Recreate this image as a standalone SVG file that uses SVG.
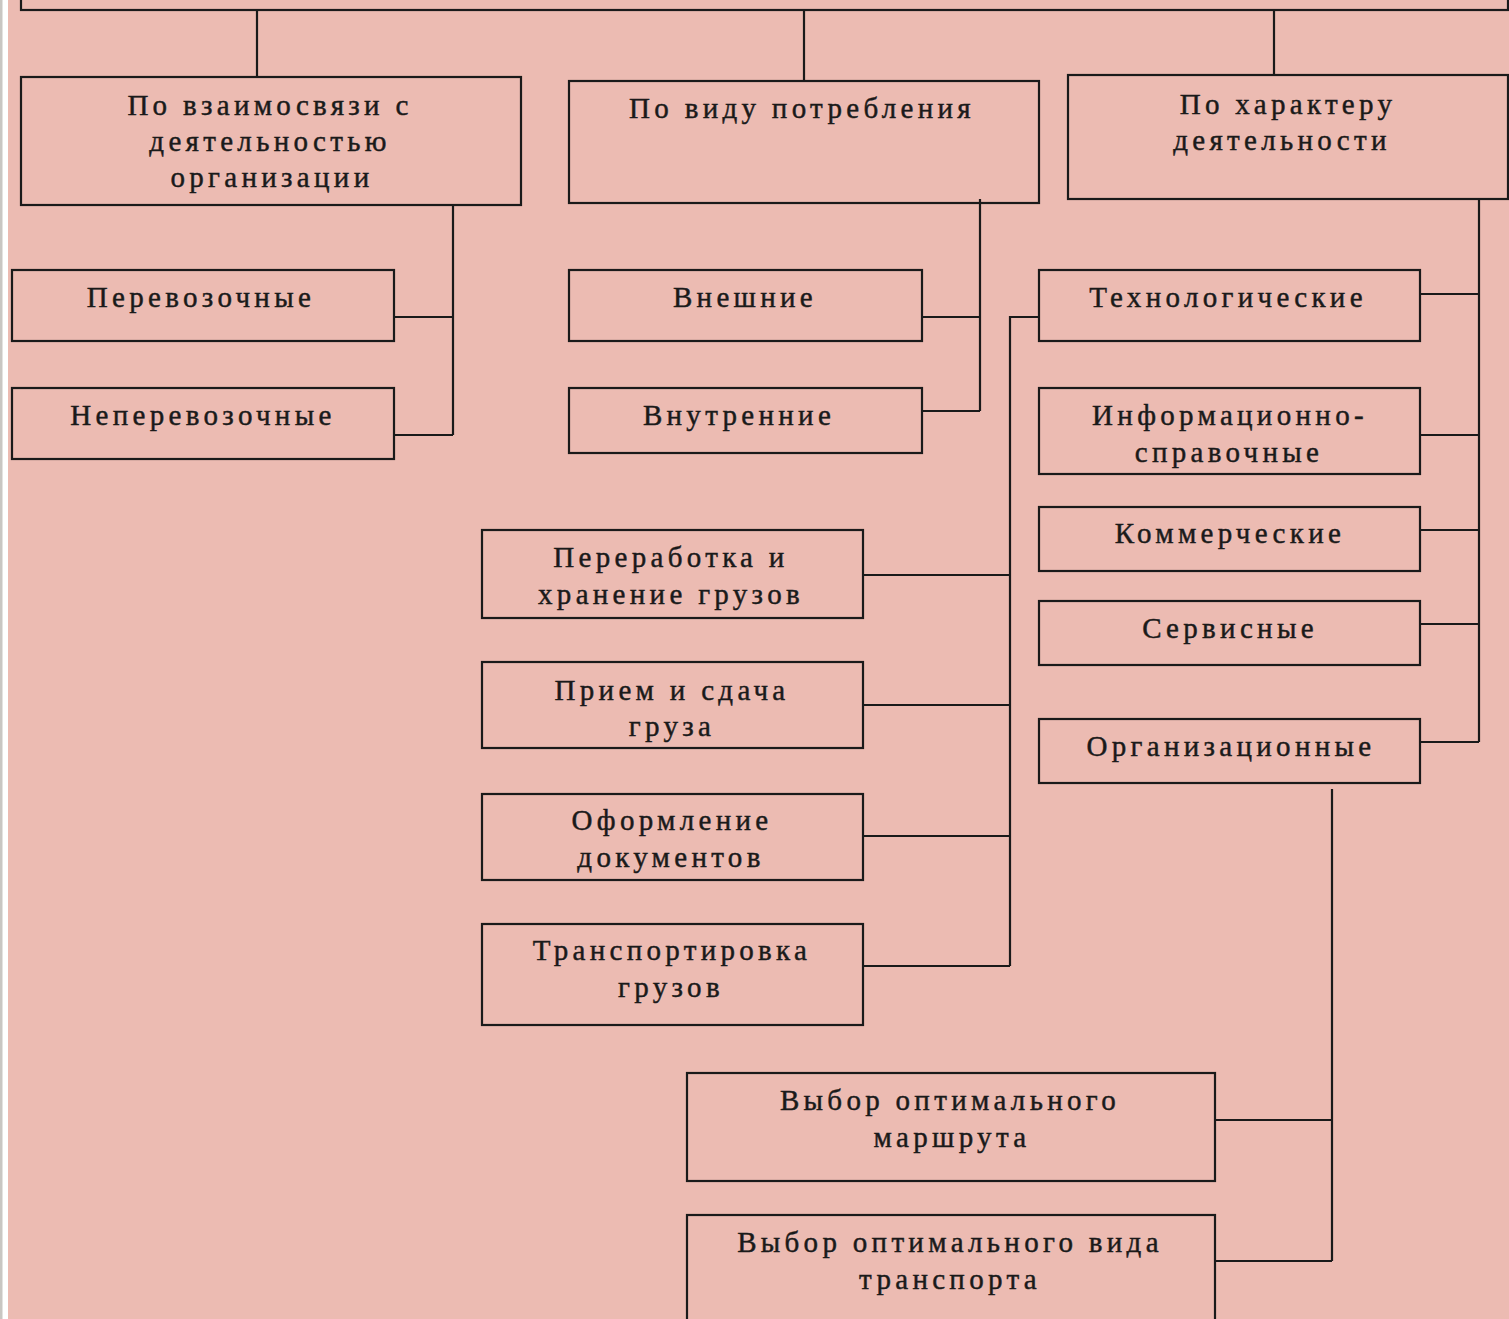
<svg xmlns="http://www.w3.org/2000/svg" width="1509" height="1319" viewBox="0 0 1509 1319">
<style>
.box{fill:none;stroke:#1a1a1a;stroke-width:2.2}
.ln{fill:none;stroke:#1a1a1a;stroke-width:2.2}
text{font-family:"Liberation Serif","DejaVu Serif",serif;font-size:29px;fill:#1a1a1a;stroke:#1a1a1a;stroke-width:0.45;text-anchor:middle;letter-spacing:4.3px}
</style>
<rect x="0" y="0" width="1509" height="1319" fill="#ffffff"/>
<rect x="0" y="0" width="2.5" height="1319" fill="#c9c6c2"/>
<rect x="8" y="0" width="1501" height="1319" fill="#ecbbb2"/>
<g id="connectors">
<path class="ln" d="M257 10V77M804 10V81M1274 10V75"/>
<path class="ln" d="M453 205V435M394 317H453M394 435H453"/>
<path class="ln" d="M980 199V411M922 317H980M922 411H980"/>
<path class="ln" d="M1479 199V742M1420 294H1479M1420 435H1479M1420 530H1479M1420 624H1479M1420 742H1479"/>
<path class="ln" d="M1039 317H1010V966M863 575H1010M863 705H1010M863 836H1010M863 966H1010"/>
<path class="ln" d="M1332 789V1261M1215 1120H1332M1215 1261H1332"/>
</g>
<g id="root"><rect class="box" x="21" y="-10" width="1487" height="20"/></g>
<g id="n1"><rect class="box" x="21" y="77" width="500" height="128"/>
<text x="270" y="115">По взаимосвязи с</text><text x="270" y="151">деятельностью</text><text x="272" y="187">организации</text></g>
<g id="n2"><rect class="box" x="569" y="81" width="470" height="122"/>
<text x="802" y="118">По виду потребления</text></g>
<g id="n3"><rect class="box" x="1068" y="75" width="440" height="124"/>
<text x="1288" y="114">По характеру</text><text x="1282" y="150">деятельности</text></g>
<g id="n4"><rect class="box" x="12" y="270" width="382" height="71"/><text x="201" y="307">Перевозочные</text></g>
<g id="n5"><rect class="box" x="12" y="388" width="382" height="71"/><text x="203" y="425">Неперевозочные</text></g>
<g id="n6"><rect class="box" x="569" y="270" width="353" height="71"/><text x="745" y="307">Внешние</text></g>
<g id="n7"><rect class="box" x="569" y="388" width="353" height="65"/><text x="739" y="425">Внутренние</text></g>
<g id="n8"><rect class="box" x="1039" y="270" width="381" height="71"/><text x="1228" y="307">Технологические</text></g>
<g id="n9"><rect class="box" x="1039" y="388" width="381" height="86"/><text x="1230" y="425">Информационно-</text><text x="1229" y="462">справочные</text></g>
<g id="n10"><rect class="box" x="1039" y="507" width="381" height="64"/><text x="1230" y="543">Коммерческие</text></g>
<g id="n11"><rect class="box" x="1039" y="601" width="381" height="64"/><text x="1230" y="638">Сервисные</text></g>
<g id="n12"><rect class="box" x="1039" y="719" width="381" height="64"/><text x="1231" y="756">Организационные</text></g>
<g id="n13"><rect class="box" x="482" y="530" width="381" height="88"/><text x="671" y="567">Переработка и</text><text x="671" y="604">хранение грузов</text></g>
<g id="n14"><rect class="box" x="482" y="662" width="381" height="86"/><text x="672" y="700">Прием и сдача</text><text x="672" y="736">груза</text></g>
<g id="n15"><rect class="box" x="482" y="794" width="381" height="86"/><text x="672" y="830">Оформление</text><text x="671" y="867">документов</text></g>
<g id="n16"><rect class="box" x="482" y="924" width="381" height="101"/><text x="672" y="960">Транспортировка</text><text x="671" y="997">грузов</text></g>
<g id="n17"><rect class="box" x="687" y="1073" width="528" height="108"/><text x="950" y="1110">Выбор оптимального</text><text x="952" y="1147">маршрута</text></g>
<g id="n18"><rect class="box" x="687" y="1215" width="528" height="120"/><text x="950" y="1252">Выбор оптимального вида</text><text x="950" y="1289">транспорта</text></g>
</svg>
